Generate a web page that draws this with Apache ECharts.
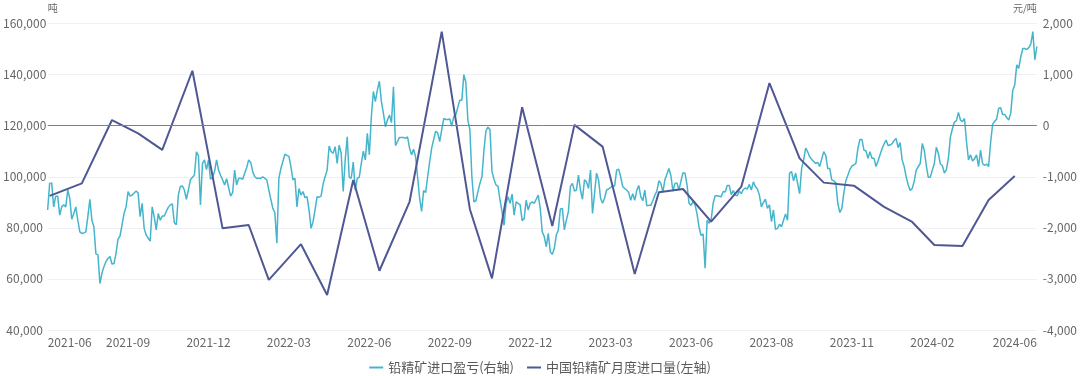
<!DOCTYPE html>
<html>
<head>
<meta charset="utf-8">
<script src="https://cdn.jsdelivr.net/npm/echarts@6/dist/echarts.min.js"></script>
<style>
  html, body { margin: 0; padding: 0; background: #fff; }
  #chart { width: 1080px; height: 376px; }
</style>
</head>
<body>
<div id="chart"></div>
<script>
// x轴刻度文字（每40个点一个，最后一个贴在末端）
const tickLabels = ['2021-06', '2021-09', '2021-12', '2022-03', '2022-06', '2022-09', '2022-12',
  '2023-03', '2023-06', '2023-08', '2023-11', '2024-02', '2024-06'];
const tickStep = 40;

// 铅精矿进口盈亏（元/吨，右轴），按交易日抽样
const profit = [
  -1650, -1130, -1120, -1590, -1380, -1380, -1750, -1590, -1550, -1590,
  -1260, -1420, -1830, -1720, -1590, -1850, -2080, -2110, -2100, -2080,
  -1780, -1440, -1850, -1980, -2510, -2530, -3090, -2890, -2760, -2660,
  -2600, -2560, -2710, -2700, -2500, -2220, -2160, -1940, -1720, -1590,
  -1290, -1380, -1360, -1320, -1280, -1320, -1780, -1520, -2010, -2140,
  -2200, -2260, -1590, -1780, -2040, -1720, -1850, -1770, -1770, -1680,
  -1600, -1550, -1530, -1900, -1940, -1360, -1190, -1180, -1260, -1440,
  -1260, -1060, -1010, -970, -510, -590, -1550, -740, -670, -860,
  -670, -1050, -1010, -900, -670, -870, -970, -1060, -1160, -1040,
  -1210, -1380, -1310, -870, -1160, -1030, -1030, -1050, -930, -820,
  -670, -720, -900, -1000, -1030, -1030, -1030, -1000, -1030, -1060,
  -1260, -1440, -1620, -1700, -2300, -1030, -840, -700, -560, -580,
  -600, -800, -1060, -1030, -1590, -1230, -1360, -1290, -1410, -1390,
  -1650, -2010, -1880, -1650, -1390, -1400, -1380, -1140, -1000, -870,
  -400, -510, -540, -410, -740, -380, -540, -1290, -670, -220,
  -1010, -1030, -710, -1260, -1030, -1010, -740, -500, -670, -150,
  -570, 180, 670, 470, 700, 870, 470, 240, -20, 110,
  210, 60, 760, -390, -310, -230, -230, -230, -250, -220,
  -440, -570, -460, -610, -1000, -1420, -1680, -1270, -1310, -1000,
  -710, -440, -270, -110, -140, -310, -80, 140, 120, 120,
  130, -10, 180, 210, 360, 500, 500, 1000, 850, 110,
  -80, -1000, -1490, -1470, -1290, -1130, -1000, -480, -100, -30,
  -80, -900, -1050, -1160, -1190, -1460, -1690, -1950, -1520, -1390,
  -1520, -1340, -1750, -1490, -1520, -1550, -1860, -1820, -1460, -1650,
  -1520, -1490, -1520, -1440, -1360, -1620, -2080, -2170, -2370, -2110,
  -2470, -2520, -2400, -2140, -2040, -1630, -1620, -2040, -1850, -1680,
  -1190, -1130, -1280, -1260, -970, -1260, -1440, -1060, -1100, -1230,
  -870, -1720, -1330, -930, -1060, -1420, -1520, -1420, -1260, -1240,
  -1210, -1180, -1180, -870, -850, -1000, -1190, -1230, -1260, -1310,
  -1460, -1330, -1460, -1270, -1170, -1390, -1470, -1260, -1570, -1560,
  -1560, -1470, -1360, -1280, -1080, -1130, -1300, -1060, -950, -840,
  -980, -1280, -1130, -1120, -1260, -1080, -920, -930, -1160, -1520,
  -1560, -1480, -1550, -1730, -1990, -2150, -2120, -2790, -1850, -1910,
  -1840, -1520, -1370, -1370, -1380, -1390, -1290, -1300, -1170, -1170,
  -1350, -1270, -1360, -1370, -1280, -1330, -1250, -1220, -1240, -1150,
  -1260, -1100, -1190, -1240, -1360, -1590, -1500, -1440, -1620, -1550,
  -1880, -1650, -2030, -2010, -1930, -1980, -1850, -1730, -1850, -930,
  -900, -1080, -930, -1130, -1330, -840, -670, -440, -510, -610,
  -660, -700, -740, -720, -800, -650, -510, -580, -840, -840,
  -1060, -1080, -1120, -1520, -1700, -1620, -1310, -1080, -970, -860,
  -790, -770, -740, -440, -270, -270, -480, -490, -640, -510,
  -640, -640, -800, -690, -570, -450, -360, -280, -390, -380,
  -350, -290, -250, -430, -330, -670, -800, -1000, -1160, -1270,
  -1230, -1090, -870, -800, -740, -350, -480, -780, -1010, -1010,
  -870, -740, -420, -540, -750, -780, -930, -860, -640, -220,
  -60, 70, 100, 260, 110, 80, 140, -310, -670, -570,
  -690, -650, -570, -800, -480, -740, -780, -750, -800, -330,
  30, 80, 130, 340, 350, 220, 220, 160, 110, 240,
  690, 800, 1190, 1120, 1350, 1510, 1510, 1490, 1530, 1600,
  1840, 1290, 1550
];

// 中国铅精矿月度进口量（吨，左轴）：所在交易日序号 + 数值
const monthIdx = [1, 17, 32, 45, 57, 72, 87, 100, 110, 126, 139, 152, 165, 180, 196, 210, 221, 236,
  251, 262, 276, 292, 304, 316, 330, 345, 359, 374, 386, 401, 416, 430, 441, 455, 468, 481];
const monthVal = [92500, 97400, 122200, 117000, 110500, 141500, 79800, 81100, 59600, 73600,
  53700, 98700, 63200, 90200, 156800, 87300, 60200, 127200, 80700, 120300, 111800, 61900,
  93900, 95200, 82400, 96100, 136700, 107200, 97700, 96500, 88200, 82300, 73300, 72900,
  90900, 100300];

const N = profit.length;
const cats = profit.map((v, i) => String(i));
const font = '"Noto Sans CJK SC", "Noto Sans", sans-serif';

const chart = echarts.init(document.getElementById('chart'));
chart.setOption({
  animation: false,
  textStyle: { fontFamily: font },
  grid: { left: 47, right: 42, top: 23.5, bottom: 46 },
  legend: {
    top: 356,
    left: 'center',
    icon: 'rect',
    itemWidth: 14,
    itemHeight: 2,
    itemGap: 13,
    textStyle: { fontSize: 13, color: '#595959', fontFamily: font },
    data: ['铅精矿进口盈亏(右轴)', '中国铅精矿月度进口量(左轴)']
  },
  xAxis: {
    type: 'category',
    data: cats,
    boundaryGap: false,
    axisLine: { show: false },
    axisTick: { show: false },
    axisLabel: {
      color: '#666',
      fontSize: 12,
      margin: 6,
      alignMinLabel: 'left',
      alignMaxLabel: 'right',
      interval: (i) => (i % tickStep === 0 && i <= tickStep * (tickLabels.length - 2)) || i === N - 1,
      formatter: (v, i) => i === N - 1 ? tickLabels[tickLabels.length - 1] : tickLabels[i / tickStep]
    }
  },
  yAxis: [
    {
      type: 'value',
      min: 40000,
      max: 160000,
      interval: 20000,
      name: '吨',
      nameGap: 10,
      nameTextStyle: { align: 'left', fontSize: 10, color: '#666' },
      axisLine: { show: false },
      axisTick: { show: false },
      axisLabel: { color: '#666', fontSize: 12, align: 'center', margin: 23 },
      splitLine: { lineStyle: { color: '#eef0f6' } }
    },
    {
      type: 'value',
      min: -4000,
      max: 2000,
      interval: 1000,
      name: '元/吨',
      nameGap: 10,
      nameTextStyle: { align: 'right', fontSize: 10, color: '#666' },
      axisLine: { show: false },
      axisTick: { show: false },
      axisLabel: { color: '#666', fontSize: 12, margin: 6 },
      splitLine: { show: false }
    }
  ],
  series: [
    {
      name: '铅精矿进口盈亏(右轴)',
      type: 'line',
      yAxisIndex: 1,
      data: profit,
      symbol: 'none',
      lineStyle: { color: '#45b5cb', width: 1.5 },
      itemStyle: { color: '#45b5cb' },
      markLine: {
        silent: true,
        symbol: 'none',
        label: { show: false },
        lineStyle: { color: '#7f7f7f', width: 1, type: 'solid' },
        data: [{ yAxis: 0 }]
      }
    },
    {
      name: '中国铅精矿月度进口量(左轴)',
      type: 'line',
      yAxisIndex: 0,
      data: monthIdx.map((d, i) => [d, monthVal[i]]),
      symbol: 'none',
      lineStyle: { color: '#4f5893', width: 2 },
      itemStyle: { color: '#4f5893' }
    }
  ]
});
</script>
</body>
</html>
